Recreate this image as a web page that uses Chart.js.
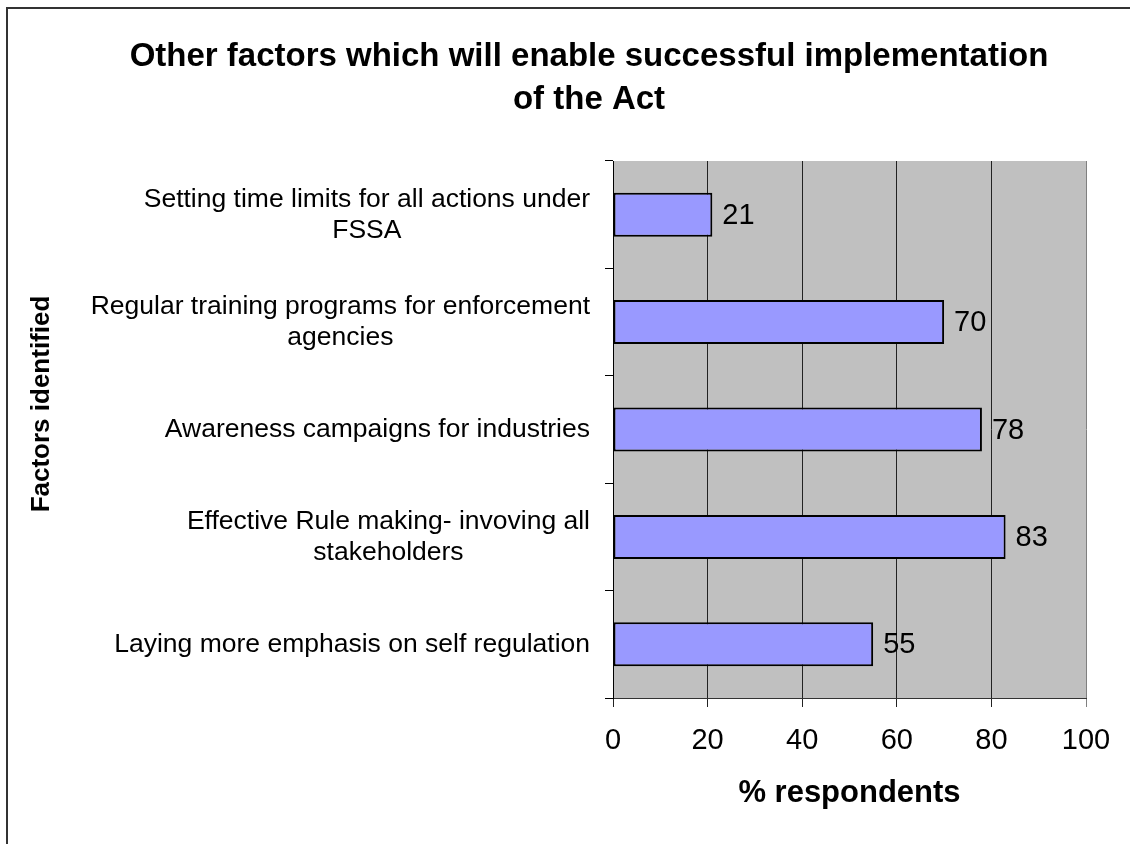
<!DOCTYPE html>
<html>
<head>
<meta charset="utf-8">
<script src="https://cdn.jsdelivr.net/npm/chart.js@4/dist/chart.umd.min.js"></script>
<style>
  html, body { margin: 0; padding: 0; background: #ffffff; }
  canvas { display: block; }
</style>
</head>
<body>
<canvas id="c" width="1130" height="844"></canvas>
<script>
// ---- data ----
const titleLines = ["Other factors which will enable successful implementation", "of the Act"];
const categories = [
  ["Setting time limits for all actions under", "FSSA"],
  ["Regular training programs for enforcement", "agencies"],
  ["Awareness campaigns for industries"],
  ["Effective Rule making- invoving all", "stakeholders"],
  ["Laying more emphasis on self regulation"]
];
const values = [21, 70, 78, 83, 55];
const xTickValues = [0, 20, 40, 60, 80, 100];
const xAxisTitle = "% respondents";
const yAxisTitle = "Factors identified";

const FONT = "'Liberation Sans', Arial, Helvetica, sans-serif";

// ---- plugins ----
const framePlugin = {
  id: 'frame',
  beforeDraw(chart) {
    const ctx = chart.ctx;
    const a = chart.chartArea;
    ctx.save();
    ctx.fillStyle = '#ffffff';
    ctx.fillRect(0, 0, chart.width, chart.height);
    ctx.strokeStyle = '#333333';
    ctx.lineWidth = 2;
    ctx.strokeRect(7, 8, chart.width + 20, chart.height + 20);
    ctx.fillStyle = '#C0C0C0';
    ctx.fillRect(a.left, a.top, a.right - a.left, a.bottom - a.top);
    ctx.restore();
  }
};

const textPlugin = {
  id: 'texts',
  afterDraw(chart) {
    const ctx = chart.ctx;
    const a = chart.chartArea;
    const yScale = chart.scales.y;
    ctx.save();
    ctx.fillStyle = '#000000';
    // main title
    ctx.font = "bold 33px " + FONT;
    ctx.textAlign = 'center';
    ctx.textBaseline = 'alphabetic';
    ctx.fillText(titleLines[0], 589, 66);
    ctx.fillText(titleLines[1], 589, 109);
    // category labels: block right-aligned, lines centered within block
    ctx.font = "26.5px " + FONT;
    const lh = 31;
    const rightEdge = a.left - 23;
    categories.forEach((lines, i) => {
      const cy = yScale.getPixelForValue(i);
      let w = 0;
      lines.forEach(l => { w = Math.max(w, ctx.measureText(l).width); });
      const cx = rightEdge - w / 2;
      ctx.textAlign = 'center';
      ctx.textBaseline = 'middle';
      const start = cy - (lines.length - 1) * lh / 2;
      lines.forEach((l, k) => ctx.fillText(l, cx, start + k * lh));
    });
    // y axis title
    ctx.font = "bold 26px " + FONT;
    ctx.translate(42, 404);
    ctx.rotate(-Math.PI / 2);
    ctx.textAlign = 'center';
    ctx.textBaseline = 'middle';
    ctx.fillText(yAxisTitle, 0, 0);
    ctx.restore();
  },
  afterDatasetsDraw(chart) {
    const ctx = chart.ctx;
    const meta = chart.getDatasetMeta(0);
    ctx.save();
    ctx.font = "29px " + FONT;
    ctx.fillStyle = '#000000';
    ctx.textAlign = 'left';
    ctx.textBaseline = 'middle';
    meta.data.forEach((el, i) => {
      ctx.fillText(String(values[i]), el.x + 10, el.y + 1);
    });
    ctx.restore();
  }
};

new Chart(document.getElementById('c'), {
  type: 'bar',
  data: {
    labels: categories,
    datasets: [{
      data: values,
      backgroundColor: '#9999FF',
      borderColor: '#000000',
      borderWidth: 2,
      borderSkipped: false,
      categoryPercentage: 1,
      barPercentage: 0.41
    }]
  },
  options: {
    indexAxis: 'y',
    responsive: false,
    animation: false,
    events: [],
    layout: { padding: { left: 7, top: 161, right: 44, bottom: 0 } },
    plugins: {
      legend: { display: false },
      title: { display: false },
      tooltip: { enabled: false }
    },
    scales: {
      x: {
        type: 'linear',
        min: 0,
        max: 100,
        afterBuildTicks(scale) { scale.ticks = xTickValues.map(v => ({ value: v })); },
        afterFit(scale) { scale.height = 844 - 698; },
        ticks: {
          font: { family: FONT, size: 29 },
          color: '#000000',
          padding: 17
        },
        grid: {
          color: (c) => (c.tick && c.tick.value === 100) ? '#808080' : '#222222',
          lineWidth: 1,
          drawTicks: true,
          tickLength: 9
        },
        border: { color: '#333333', width: 1 },
        title: {
          display: true,
          text: xAxisTitle,
          font: { family: FONT, size: 31, weight: 'bold' },
          color: '#000000',
          padding: { top: 0, bottom: 32 }
        }
      },
      y: {
        afterFit(scale) { scale.width = 613 - 7; },
        ticks: { display: false },
        grid: {
          drawOnChartArea: false,
          drawTicks: true,
          tickLength: 8,
          color: '#000000'
        },
        border: { color: '#000000', width: 1 }
      }
    }
  },
  plugins: [framePlugin, textPlugin]
});
</script>
</body>
</html>
